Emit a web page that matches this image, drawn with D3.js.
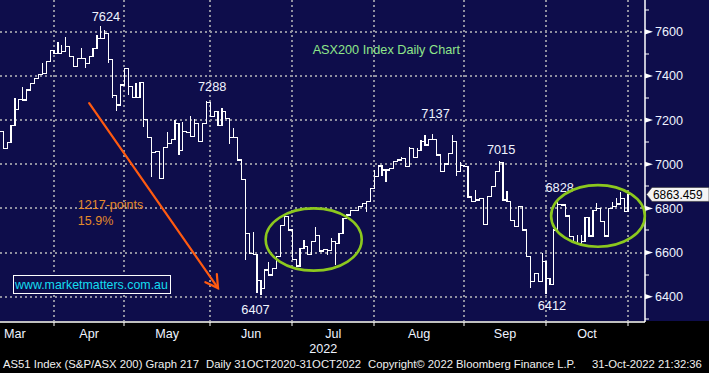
<!DOCTYPE html>
<html><head><meta charset="utf-8">
<script src="https://cdn.jsdelivr.net/npm/d3@7/dist/d3.min.js"></script>
<style>html,body{margin:0;padding:0;background:#000;}svg{display:block;}</style>
</head><body>
<svg id="chart" width="709" height="373"></svg>
<script>
// Daily closes of the S&P/ASX 200, 11 Mar 2022 .. 31 Oct 2022 (one value per trading day)
const closes = [
 7147,7072,7099,7177,7249,7295,7291,7336,7366,7389,7408,7411,7464,7517,7502,
 7502,7509,7532,7487,7441,7479,7479,7457,7487,7525,7570,7570,7593,7475,7313,7268,7359,7434,
 7351,7303,7303,7369,7203,7122,7052,7057,6936,7076,7094,7113,7185,7064,7147,7143,7125,7185,7102,7185,7278,7215,
 7238,7177,7238,7208,7122,7122,7019,6931,6687,6596,6593,6475,6438,6521,6498,6528,6581,6722,6762,6702,6570,
 6539,6618,6626,6593,6649,6679,6607,6613,6610,6649,6641,6687,6755,6770,6792,6792,6808,6823,6830,6891,6946,
 6992,6974,6974,6981,7011,7019,7027,6989,7072,7031,7064,7102,7087,7113,7113,7042,6966,7001,7049,7102,6966,6996,6989,
 6852,6830,6838,6846,6728,6853,6898,6966,7009,6838,6830,6747,6717,6808,6702,6581,6468,6506,6468,6559,6482,
 6457,6702,6817,6815,6766,6672,6645,6642,6649,6759,6675,6792,6800,6740,6675,6800,6808,6820,6846,6785,6863.459
];
// intraday extremes that stick out of the step line: [day index, value]
const highs = [[4,7298],[6,7351],[11,7457],[15,7555],[16,7540],[17,7577],[21,7525],[25,7585],[26,7624],[27,7608],
 [35,7366],[43,7147],[45,7200],[47,7192],[49,7218],[50,7203],[53,7288],[57,7253],[60,7162],[65,6694],[69,6558],
 [78,6655],[81,6714],[85,6664],[96,6974],[103,7034],[105,7076],[107,7072],[108,7109],[109,7132],[111,7137],
 [116,7132],[118,7011],[122,6883],[128,7015],[130,6878],[139,6596],[143,6828],[148,6679],[149,6679],[153,6823],
 [157,6830],[158,6846],[159,6875]];
const lows = [[22,7434],[28,7460],[29,7298],[30,7242],[33,7313],[37,7170],[39,6943],[46,7042],[59,7094],[63,6566],
 [66,6415],[67,6407],[84,6589],[86,6543],[94,6785],[98,6946],[99,6921],[117,6946],[136,6438],[140,6412]];

const months = ["Mar","Apr","May","Jun","Jul","Aug","Sep","Oct"];
const monthStart = [-5,15,33,55,76,97,120,141,162]; // index of first trading day of each month (+ Nov)
const yMajor = [6400,6600,6800,7000,7200,7400,7600];
const yMinor = [6300,6500,6700,6900,7100,7300,7500,7700];
const lastValue = "6863.459";

// annotations anchored in data coordinates [day index, index value]
const notes = [
 {t:"7624",at:[26.8,7648]},{t:"7288",at:[54.0,7334]},{t:"7137",at:[111.2,7209]},
 {t:"7015",at:[128.0,7046]},{t:"6828",at:[143.0,6875]},{t:"6412",at:[141.0,6340]},{t:"6407",at:[65.1,6322]}
];
const title = {t:"ASX200 Index Daily Chart", at:[98.6,7499]};
const fallText = [{t:"1217-points",at:[19.6,6797]},{t:"15.9%",at:[19.6,6724]}];
const fallArrow = {from:[22.5,7277], to:[55.5,6439]};
const rings = [{c:[80.0,6659],r:[12.3,141]},{c:[152.8,6766],r:[12.0,139.5]}];

const W=709,H=373, plotBottom=321, axisX=645;
const svg = d3.select("#chart");
const x = d3.scaleLinear().domain([0,161]).range([1.3,630.0]);
const y = d3.scaleLinear().domain([6290,7744]).range([plotBottom,0]);
const FONT = "'Liberation Sans', Arial, sans-serif";

svg.append("rect").attr("width",W).attr("height",H).attr("fill","#000");
svg.append("rect").attr("width",W).attr("height",plotBottom).attr("fill","#0e0d4b");

// grid
const grid = svg.append("g").attr("stroke","#9090a0").attr("stroke-width",2).attr("stroke-dasharray","2,3");
grid.selectAll("line.h").data(yMajor).join("line").attr("class","h")
  .attr("x1",0).attr("x2",axisX).attr("y1",d=>Math.round(y(d))).attr("y2",d=>Math.round(y(d)));
const bounds = monthStart.slice(1);
grid.selectAll("line.v").data(bounds).join("line").attr("class","v")
  .attr("x1",d=>Math.round(x(d-1.5))).attr("x2",d=>Math.round(x(d-1.5))).attr("y1",0).attr("y2",plotBottom);

// price: step line of closes
let p = `M${x(-0.5)},${y(closes[0])}H${x(0.5)}`;
for (let i=1;i<closes.length;i++) p += `V${y(closes[i])}H${x(i+0.5)}`;
const price = svg.append("g").attr("stroke","#fff").attr("fill","none").attr("stroke-width",1.2).attr("shape-rendering","crispEdges");
price.append("path").attr("d",p);
const wick = (i,v)=>{const prev=i>0?closes[i-1]:closes[i];return [x(i-0.5), y(v), v>closes[i]?y(Math.max(prev,closes[i])):y(Math.min(prev,closes[i]))];};
price.selectAll("line.w").data(highs.concat(lows)).join("line").attr("class","w")
  .attr("x1",d=>wick(d[0],d[1])[0]).attr("x2",d=>wick(d[0],d[1])[0])
  .attr("y1",d=>wick(d[0],d[1])[1]).attr("y2",d=>wick(d[0],d[1])[2]);

// right axis
const ax = svg.append("g");
ax.append("line").attr("x1",axisX).attr("x2",axisX).attr("y1",0).attr("y2",plotBottom+1).attr("stroke","#fff").attr("stroke-width",1.5);
ax.selectAll("line.mn").data(yMinor).join("line").attr("class","mn")
  .attr("x1",axisX).attr("x2",axisX+4).attr("y1",d=>Math.round(y(d))).attr("y2",d=>Math.round(y(d))).attr("stroke","#fff");
ax.selectAll("path.mj").data(yMajor).join("path").attr("class","mj")
  .attr("d",d=>`M${axisX},${y(d)-2.6}L${axisX+8},${y(d)}L${axisX},${y(d)+2.6}Z`).attr("fill","#fff");
ax.selectAll("text").data(yMajor).join("text")
  .attr("x",axisX+10).attr("y",d=>y(d)).attr("dy","0.36em")
  .attr("fill","#eef3ff").attr("font-family",FONT).attr("font-size","12.6px").text(d=>d);

// last value tag
const ly = y(closes[closes.length-1]);
svg.append("path").attr("d",`M${axisX+1.5},${ly}L${axisX+7},${ly-7}H${W}V${ly+7}H${axisX+7}Z`)
  .attr("fill","#f4f4f4").attr("stroke","#333").attr("stroke-width",0.6);
svg.append("text").attr("x",axisX+8).attr("y",ly).attr("dy","0.36em").attr("fill","#000")
  .attr("font-family",FONT).attr("font-size","11.9px").text(lastValue);

// bottom axis
svg.append("line").attr("x1",0).attr("x2",axisX).attr("y1",plotBottom+1).attr("y2",plotBottom+1).attr("stroke","#fff").attr("stroke-width",1.5);
svg.selectAll("line.bt").data(bounds).join("line").attr("class","bt")
  .attr("x1",d=>Math.round(x(d-1.5))).attr("x2",d=>Math.round(x(d-1.5))).attr("y1",plotBottom+1).attr("y2",plotBottom+5).attr("stroke","#fff");
svg.selectAll("text.mo").data(months).join("text").attr("class","mo")
  .attr("x",(d,i)=>(x(monthStart[i]-1.5)+x(monthStart[i+1]-1.5))/2).attr("y",338)
  .attr("text-anchor","middle").attr("fill","#eef3ff").attr("font-family",FONT).attr("font-size","12.6px").text(d=>d);
svg.append("text").attr("x",(x(monthStart[4]-1.5)+x(monthStart[5]-1.5))/2-10).attr("y",353).attr("text-anchor","middle")
  .attr("fill","#eef3ff").attr("font-family",FONT).attr("font-size","12.6px").text("2022");

// footer
const foot = svg.append("g").attr("fill","#f0f0f0").attr("font-family",FONT).attr("font-size","11.3px");
foot.append("text").attr("x",3).attr("y",368).text("AS51 Index (S&P/ASX 200) Graph 217");
foot.append("text").attr("x",206).attr("y",368).text("Daily 31OCT2020-31OCT2022");
foot.append("text").attr("x",368).attr("y",368).text("Copyright\u00A9 2022 Bloomberg Finance L.P.");
foot.append("text").attr("x",592).attr("y",368).text("31-Oct-2022 21:32:36");

// annotations
svg.selectAll("text.pk").data(notes).join("text").attr("class","pk")
  .attr("x",d=>x(d.at[0])).attr("y",d=>y(d.at[1])).attr("text-anchor","middle")
  .attr("fill","#f0f4ff").attr("font-family",FONT).attr("font-size","12.8px").text(d=>d.t);
svg.append("text").attr("x",x(title.at[0])).attr("y",y(title.at[1])).attr("text-anchor","middle")
  .attr("fill","#8ee68a").attr("font-family",FONT).attr("font-size","12.7px").text(title.t);
svg.selectAll("text.fl").data(fallText).join("text").attr("class","fl")
  .attr("x",d=>x(d.at[0])).attr("y",d=>y(d.at[1]))
  .attr("fill","#e48a2a").attr("font-family",FONT).attr("font-size","12.5px").text(d=>d.t);

// arrow
const ax0=x(fallArrow.from[0]), ay0=y(fallArrow.from[1]), ax1=x(fallArrow.to[0]), ay1=y(fallArrow.to[1]);
const ang=Math.atan2(ay1-ay0,ax1-ax0), hl=14, ha=Math.PI/6;
const arr = svg.append("g").attr("stroke","#ff5a10").attr("stroke-width",2.2).attr("fill","none").attr("stroke-linecap","round");
arr.append("line").attr("x1",ax0).attr("y1",ay0).attr("x2",ax1).attr("y2",ay1);
arr.append("path").attr("d",`M${ax1-hl*Math.cos(ang-ha)},${ay1-hl*Math.sin(ang-ha)}L${ax1},${ay1}L${ax1-hl*Math.cos(ang+ha)},${ay1-hl*Math.sin(ang+ha)}`);

// ellipses
svg.selectAll("ellipse").data(rings).join("ellipse")
  .attr("cx",d=>x(d.c[0])).attr("cy",d=>y(d.c[1]))
  .attr("rx",d=>x(d.c[0]+d.r[0])-x(d.c[0])).attr("ry",d=>y(d.c[1]-d.r[1])-y(d.c[1]))
  .attr("fill","none").attr("stroke","#8cc81e").attr("stroke-width",2.6);

// website tag
svg.append("rect").attr("x",13.5).attr("y",275.5).attr("width",157).attr("height",18)
  .attr("fill","#0e0d4b").attr("stroke","#fff").attr("stroke-width",1);
svg.append("text").attr("x",15).attr("y",289).attr("fill","#14dcf0")
  .attr("font-family",FONT).attr("font-size","12.4px").text("www.marketmatters.com.au");
</script>
</body></html>
